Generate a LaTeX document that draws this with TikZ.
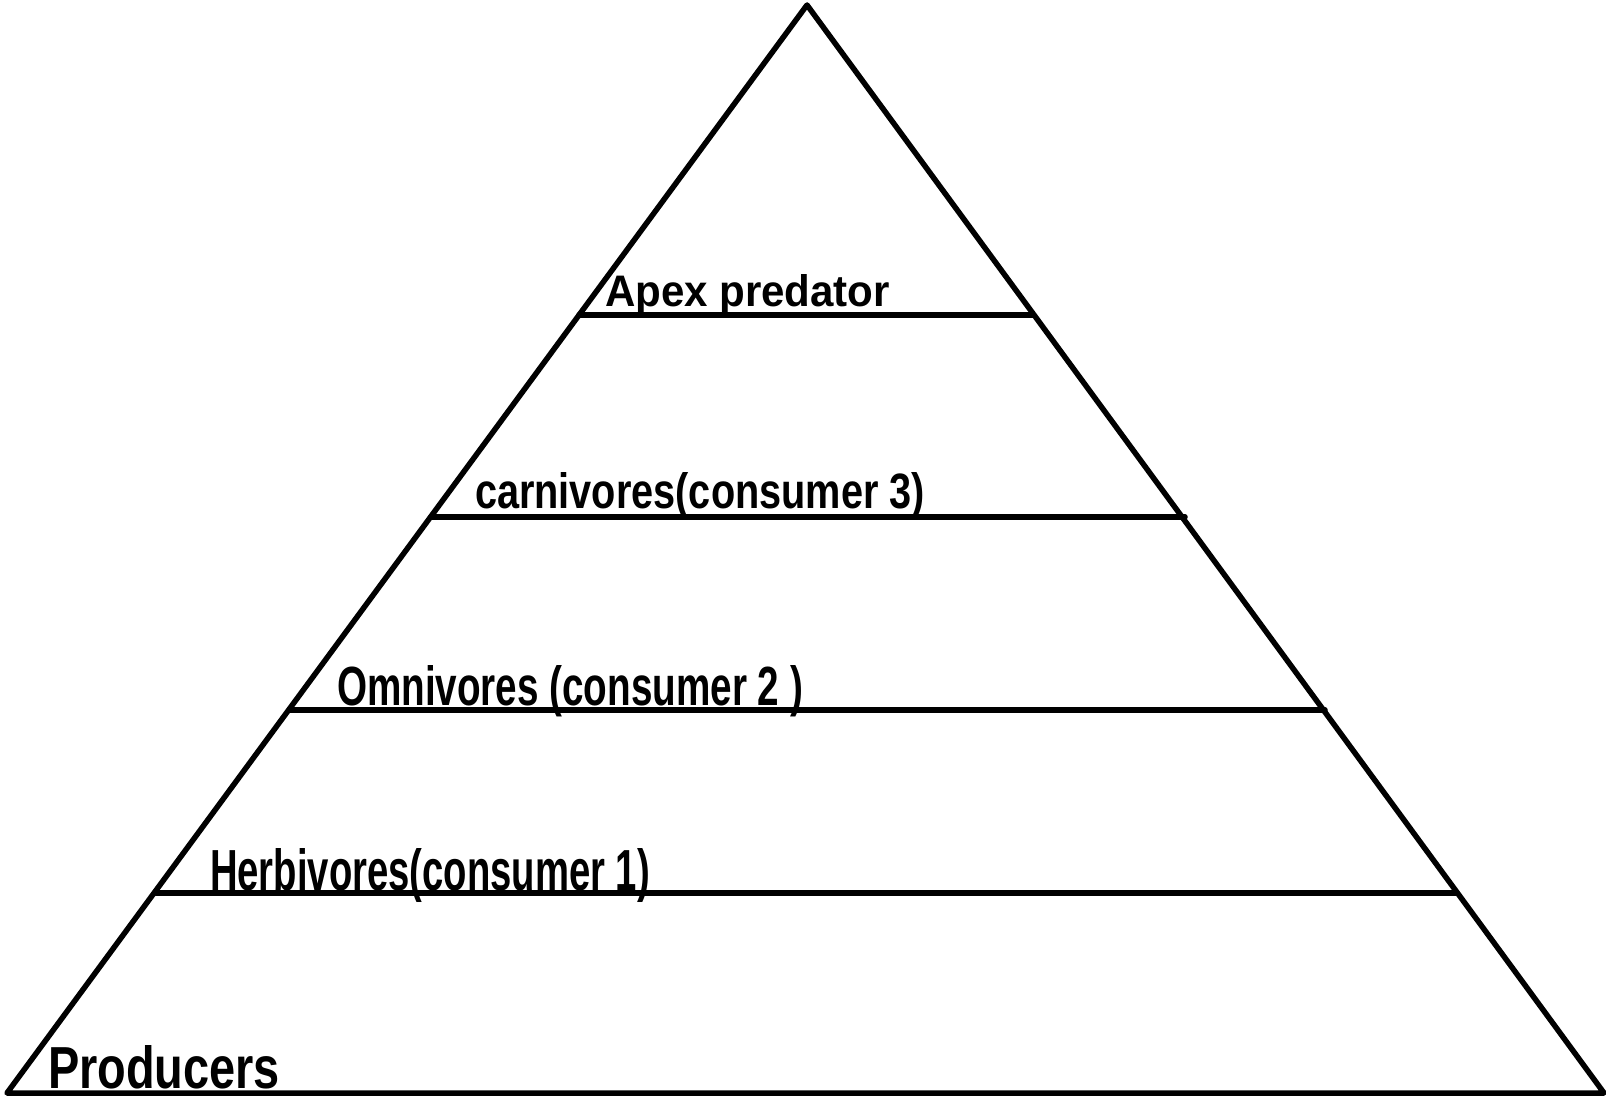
\documentclass[tikz,border=0pt]{standalone}
\usepackage{fontspec}
\usepackage{graphicx}
\setmainfont{Liberation Sans}
\begin{document}
\begin{tikzpicture}[x=1pt,y=-1pt,
  edge/.style={line width=5.5pt,line join=round,line cap=round},
  label/.style={anchor=base west,inner sep=0pt,outer sep=0pt,font=\bfseries}]
\useasboundingbox (0,0) rectangle (1606,1099);
\fill[white] (0,0) rectangle (1606,1099);
% triangle
\coordinate (apex) at (807,5);
\coordinate (bl) at (7,1093);
\coordinate (br) at (1604,1093);
\draw[edge] (bl) -- (apex) -- (br) -- cycle;
% tier lines
\coordinate (l1) at (579,315);  \coordinate (r1) at (1033,315);
\coordinate (l2) at (431,517);  \coordinate (r2) at (1185,517);
\coordinate (l3) at (290,710);  \coordinate (r3) at (1325,710);
\coordinate (l4) at (156,893);  \coordinate (r4) at (1457,893);
\draw[edge] (l1) -- (r1);
\draw[edge] (l2) -- (r2);
\draw[edge] (l3) -- (r3);
\draw[edge] (l4) -- (r4);
% labels
\node[label] (apexlbl) at (605,307) {\resizebox{285pt}{32pt}{Apex predator}};
\node[label] (carn) at (475,508) {\resizebox{450pt}{36pt}{carnivores(consumer 3)}};
\node[label] (omni) at (337,705) {\resizebox{466pt}{40pt}{Omnivores (consumer 2 )}};
\node[label] (herb) at (210,890) {\resizebox{440pt}{42pt}{Herbivores(consumer 1)}};
\node[label] (prod) at (48,1088) {\resizebox{232pt}{43pt}{Producers}};
\end{tikzpicture}
\end{document}
